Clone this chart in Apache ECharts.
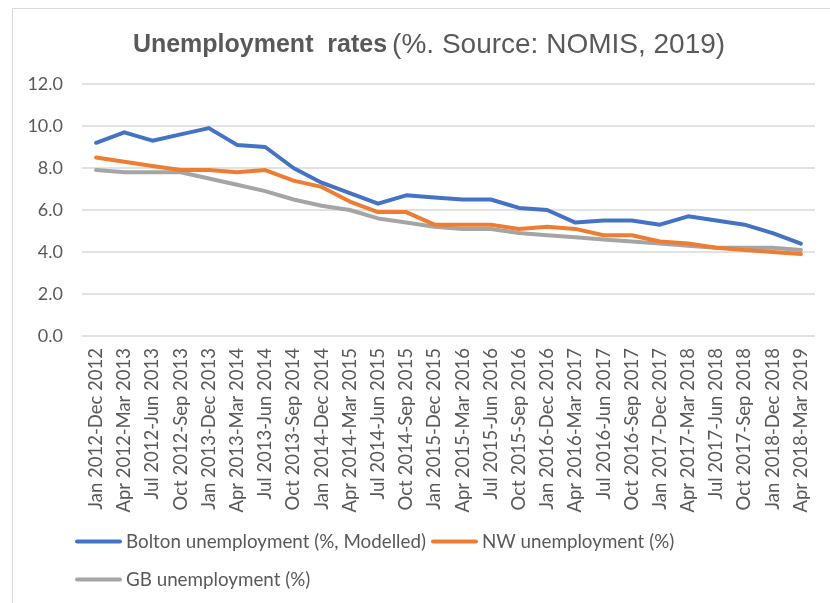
<!DOCTYPE html>
<html>
<head>
<meta charset="utf-8">
<script src="https://cdn.jsdelivr.net/npm/echarts@6/dist/echarts.min.js"></script>
<style>
html,body{margin:0;padding:0;background:#fff;}
#chart{width:830px;height:603px;}
</style>
</head>
<body>
<div id="chart"></div>
<script>
const categories = [
  'Jan 2012-Dec 2012','Apr 2012-Mar 2013','Jul 2012-Jun 2013','Oct 2012-Sep 2013',
  'Jan 2013-Dec 2013','Apr 2013-Mar 2014','Jul 2013-Jun 2014','Oct 2013-Sep 2014',
  'Jan 2014-Dec 2014','Apr 2014-Mar 2015','Jul 2014-Jun 2015','Oct 2014-Sep 2015',
  'Jan 2015-Dec 2015','Apr 2015-Mar 2016','Jul 2015-Jun 2016','Oct 2015-Sep 2016',
  'Jan 2016-Dec 2016','Apr 2016-Mar 2017','Jul 2016-Jun 2017','Oct 2016-Sep 2017',
  'Jan 2017-Dec 2017','Apr 2017-Mar 2018','Jul 2017-Jun 2018','Oct 2017-Sep 2018',
  'Jan 2018-Dec 2018','Apr 2018-Mar 2019'
];
const boltonValues = [9.2, 9.7, 9.3, 9.6, 9.9, 9.1, 9.0, 8.0, 7.3, 6.8, 6.3, 6.7, 6.6, 6.5, 6.5, 6.1, 6.0, 5.4, 5.5, 5.5, 5.3, 5.7, 5.5, 5.3, 4.9, 4.4];
const nwValues     = [8.5, 8.3, 8.1, 7.9, 7.9, 7.8, 7.9, 7.4, 7.1, 6.4, 5.9, 5.9, 5.3, 5.3, 5.3, 5.1, 5.2, 5.1, 4.8, 4.8, 4.5, 4.4, 4.2, 4.1, 4.0, 3.9];
const gbValues     = [7.9, 7.8, 7.8, 7.8, 7.5, 7.2, 6.9, 6.5, 6.2, 6.0, 5.6, 5.4, 5.2, 5.1, 5.1, 4.9, 4.8, 4.7, 4.6, 4.5, 4.4, 4.3, 4.2, 4.2, 4.2, 4.1];
const seriesNames = ['Bolton unemployment (%, Modelled)', 'NW unemployment (%)', 'GB unemployment (%)'];
const yTicks = [0, 2, 4, 6, 8, 10, 12];

const chart = echarts.init(document.getElementById('chart'), null, {renderer: 'canvas'});
const textColor = '#595959';
const lineIcon = 'path://M2,0 L45,0 A2,2 0 0 1 45,4 L2,4 A2,2 0 0 1 2,0 Z';
const legendBase = {
  orient: 'horizontal',
  icon: lineIcon,
  itemWidth: 47,
  itemHeight: 4,
  itemGap: 0,
  padding: 0,
  textStyle: {color: textColor, fontFamily: 'Lato', fontSize: 18.8, padding: [0, 0, 0, -1]},
  selectedMode: false
};
chart.setOption({
  animation: false,
  backgroundColor: '#fff',
  graphic: [{
    type: 'rect',
    shape: {x: 12.5, y: 8.5, width: 900, height: 700},
    style: {fill: 'none', stroke: '#d9d9d9', lineWidth: 1},
    silent: true
  }],
  title: {
    text: '{b|Unemployment  rates} {n|(%. Source: NOMIS, 2019)}',
    left: 424,
    textAlign: 'center',
    top: 26,
    textStyle: {
      rich: {
        b: {fontFamily: 'Liberation Sans', fontWeight: 'bold', fontSize: 25, color: textColor},
        n: {fontFamily: 'Liberation Sans', fontWeight: 'normal', fontSize: 28, color: textColor}
      }
    }
  },
  legend: [
    Object.assign({}, legendBase, {data: [seriesNames[0]], left: 75, top: 532}),
    Object.assign({}, legendBase, {data: [seriesNames[1]], left: 431, top: 532}),
    Object.assign({}, legendBase, {data: [seriesNames[2]], left: 75, top: 570})
  ],
  grid: {left: 82, right: 15, top: 84, height: 252, containLabel: false},
  xAxis: {
    type: 'category',
    data: categories,
    boundaryGap: true,
    axisLine: {show: false},
    axisTick: {show: false},
    axisLabel: {
      rotate: 90,
      interval: 0,
      margin: 12,
      color: textColor,
      fontFamily: 'Lato',
      fontSize: 18.5
    }
  },
  yAxis: {
    type: 'value',
    min: yTicks[0],
    max: yTicks[yTicks.length - 1],
    interval: 2,
    axisLine: {show: false},
    axisTick: {show: false},
    splitLine: {lineStyle: {color: '#d9d9d9', width: 1.5}},
    axisLabel: {
      margin: 19,
      color: textColor,
      fontFamily: 'Lato',
      fontSize: 18,
      formatter: v => v.toFixed(1)
    }
  },
  series: [
    {name: seriesNames[0], type: 'line', data: boltonValues, showSymbol: false, symbol: 'none',
      lineStyle: {color: '#4472C4', width: 4, cap: 'round', join: 'round'}, itemStyle: {color: '#4472C4'}, z: 3},
    {name: seriesNames[1], type: 'line', data: nwValues, showSymbol: false, symbol: 'none',
      lineStyle: {color: '#ED7D31', width: 4, cap: 'round', join: 'round'}, itemStyle: {color: '#ED7D31'}, z: 2},
    {name: seriesNames[2], type: 'line', data: gbValues, showSymbol: false, symbol: 'none',
      lineStyle: {color: '#A5A5A5', width: 4, cap: 'round', join: 'round'}, itemStyle: {color: '#A5A5A5'}, z: 1}
  ]
});
</script>
</body>
</html>
